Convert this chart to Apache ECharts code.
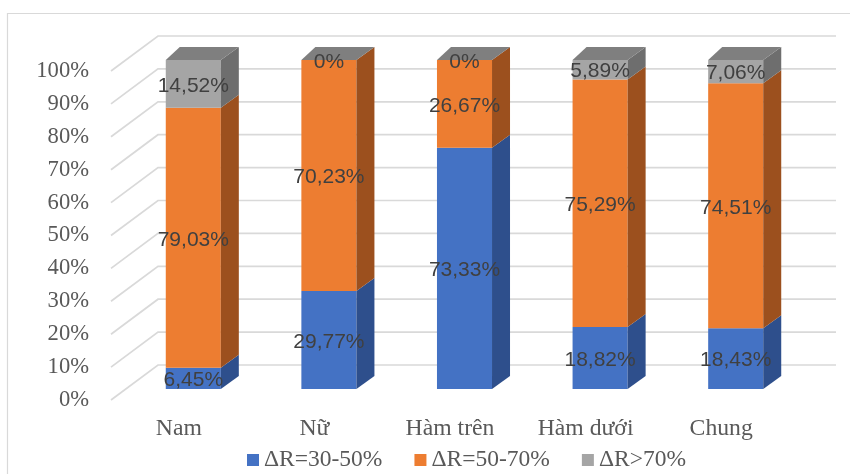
<!DOCTYPE html>
<html>
<head>
<meta charset="utf-8">
<script src="https://cdn.jsdelivr.net/npm/echarts@6/dist/echarts.min.js"></script>
<style>
  html, body { margin: 0; padding: 0; background: #ffffff; }
  #chart { width: 850px; height: 474px; }
</style>
</head>
<body>
<div id="chart"></div>
<script>
// Categories and stacked shares (percent) for each ΔR group
const categories = ['Nam', 'Nữ', 'Hàm trên', 'Hàm dưới', 'Chung'];
const seriesNames = ['ΔR=30-50%', 'ΔR=50-70%', 'ΔR>70%'];
const share30to50 = [6.45, 29.77, 73.33, 18.82, 18.43];
const share50to70 = [79.03, 70.23, 26.67, 75.29, 74.51];
const shareOver70 = [14.52, 0, 0, 5.89, 7.06];
const yTicks = [0, 10, 20, 30, 40, 50, 60, 70, 80, 90, 100];

// Face colours: front, side, top
const faces = [
  { front: '#4472C4', side: '#2E4F8C' },
  { front: '#ED7D31', side: '#9C501E' },
  { front: '#A5A5A5', side: '#6E6E6E' }
];
const topFace = '#7F7F7F';

// Depth offsets of the pseudo-3D box and the back wall
const DEPTH_X = 18, DEPTH_Y = -13, DEPTH_X_LEFT = 14;
const WALL_X = 47, WALL_Y = -35;

const layers = [share30to50, share50to70, shareOver70];

function fmt(v) {
  return String(v).replace('.', ',') + '%';
}

// Build [index, base, value] rows for each stacked layer
const stackedRows = layers.map((vals, s) =>
  vals.map((v, i) => {
    let base = 0;
    for (let k = 0; k < s; k++) base += layers[k][i];
    return [i, base, v];
  })
);

const chart = echarts.init(document.getElementById('chart'), null, { renderer: 'canvas' });

function boxRenderer(s) {
  const isTop = s === layers.length - 1;
  return function (params, api) {
    const i = api.value(0), base = api.value(1), val = api.value(2);
    const pb = api.coord([i, base]);
    const pt = api.coord([i, base + val]);
    const w = api.size([1, 0])[0] * 0.406;
    const L = pb[0] - w / 2, R = pb[0] + w / 2;
    const yb = pb[1], yt = pt[1];
    const children = [];
    if (yb - yt > 0) {
      children.push({
        type: 'rect',
        shape: { x: L, y: yt, width: w, height: yb - yt },
        style: { fill: faces[s].front }
      });
      children.push({
        type: 'polygon',
        shape: { points: [[R, yt], [R + DEPTH_X, yt + DEPTH_Y], [R + DEPTH_X, yb + DEPTH_Y], [R, yb]] },
        style: { fill: faces[s].side }
      });
    }
    if (isTop) {
      children.push({
        type: 'polygon',
        shape: { points: [[L, yt], [R, yt], [R + DEPTH_X, yt + DEPTH_Y], [L + DEPTH_X_LEFT, yt + DEPTH_Y]] },
        style: { fill: topFace }
      });
    }
    return { type: 'group', children: children };
  };
}

const barSeries = layers.map((vals, s) => ({
  name: seriesNames[s],
  type: 'custom',
  xAxisIndex: 1,
  yAxisIndex: 1,
  z: 3,
  itemStyle: { color: faces[s].front },
  encode: { x: 0, y: [1, 2] },
  data: stackedRows[s],
  renderItem: boxRenderer(s)
}));

// Value labels centred on each front face
const labelRows = [];
stackedRows.forEach((rows) => rows.forEach((r) => labelRows.push(r)));

const labelSeries = {
  type: 'custom',
  xAxisIndex: 1,
  yAxisIndex: 1,
  z: 5,
  silent: true,
  encode: { x: 0, y: [1, 2] },
  data: labelRows,
  renderItem: function (params, api) {
    const i = api.value(0), base = api.value(1), val = api.value(2);
    const p = api.coord([i, base + val / 2]);
    return {
      type: 'text',
      x: p[0],
      y: p[1] + 2,
      style: {
        text: fmt(val),
        fill: '#404040',
        font: '21px "Liberation Sans", Arial, sans-serif',
        align: 'center',
        verticalAlign: 'middle'
      }
    };
  }
};

// Floor-to-wall gridlines: diagonal on the left side, horizontal on the back wall
const gridSeries = {
  type: 'custom',
  xAxisIndex: 0,
  yAxisIndex: 0,
  z: 1,
  silent: true,
  encode: { x: 0, y: 1 },
  data: yTicks.map((v) => [0, v]),
  renderItem: function (params, api) {
    const cs = params.coordSys;
    const y = api.coord([0, api.value(1)])[1];
    const x0 = cs.x;
    const xb = x0 + WALL_X, yb = y + WALL_Y;
    const xr = cs.x + cs.width + WALL_X;
    return {
      type: 'polyline',
      shape: { points: [[x0, y], [xb, yb], [xr, yb]] },
      style: { stroke: '#D9D9D9', lineWidth: 1.7, fill: null }
    };
  }
};

const option = {
  backgroundColor: '#ffffff',
  animation: false,
  graphic: [{
    type: 'rect',
    shape: { x: 7.5, y: 13.5, width: 860, height: 480 },
    style: { fill: 'none', stroke: '#D9D9D9', lineWidth: 1.2 },
    silent: true
  }],
  legend: {
    data: seriesNames,
    left: 242,
    top: 443,
    icon: 'rect',
    itemWidth: 12,
    itemHeight: 12,
    itemGap: 32,
    textStyle: { fontFamily: '"Liberation Serif", "Times New Roman", serif', fontSize: 23.5, color: '#595959' }
  },
  grid: [
    { left: 111, right: 61, top: 71, bottom: 74 },
    { left: 125.5, right: 46.5, top: 60, bottom: 85 }
  ],
  xAxis: [
    {
      type: 'category', gridIndex: 0, data: categories,
      axisLine: { show: false }, axisTick: { show: false }, splitLine: { show: false },
      axisLabel: {
        margin: 17,
        color: '#595959',
        fontFamily: '"Liberation Serif", "Times New Roman", serif',
        fontSize: 23.7
      }
    },
    {
      type: 'category', gridIndex: 1, data: categories, show: false
    }
  ],
  yAxis: [
    {
      type: 'value', gridIndex: 0, min: 0, max: 100, interval: 10,
      axisLine: { show: false }, axisTick: { show: false }, splitLine: { show: false },
      axisLabel: {
        margin: 22,
        formatter: '{value}%',
        color: '#595959',
        fontFamily: '"Liberation Serif", "Times New Roman", serif',
        fontSize: 22.6,
        padding: [4, 0, 0, 0]
      }
    },
    {
      type: 'value', gridIndex: 1, min: 0, max: 100, interval: 10, show: false
    }
  ],
  series: [gridSeries].concat(barSeries, [labelSeries])
};

chart.setOption(option);
</script>
</body>
</html>
